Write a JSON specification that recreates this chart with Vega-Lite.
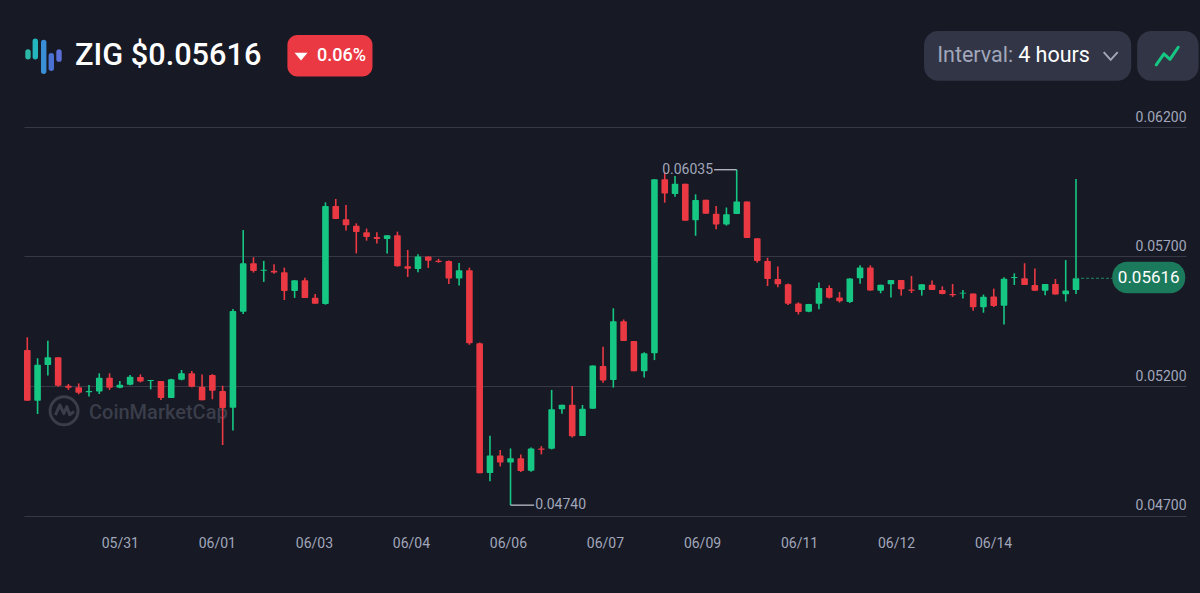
{
  "$schema": "https://vega.github.io/schema/vega-lite/v6.json",
  "width": 1162,
  "height": 388.5,
  "padding": {"left": 24, "top": 127, "right": 14, "bottom": 77.5},
  "autosize": {"type": "none"},
  "background": "#171924",
  "config": {
    "view": {"stroke": null},
    "axis": {"title": null},
    "text": {"font": "Roboto"}
  },
  "data": {"values": [{}]},
  "datasets": {
    "candles": [
      {"t":"2025-05-29T12:00","open":0.05339,"high":0.05388,"low":0.05143,"close":0.05143},
      {"t":"2025-05-29T16:00","open":0.05143,"high":0.05307,"low":0.05092,"close":0.05282},
      {"t":"2025-05-29T20:00","open":0.05281,"high":0.05375,"low":0.05241,"close":0.05311},
      {"t":"2025-05-30T00:00","open":0.05311,"high":0.05311,"low":0.05197,"close":0.05201},
      {"t":"2025-05-30T04:00","open":0.05201,"high":0.05208,"low":0.05185,"close":0.05193},
      {"t":"2025-05-30T08:00","open":0.05195,"high":0.05210,"low":0.05168,"close":0.05174},
      {"t":"2025-05-30T12:00","open":0.05176,"high":0.05204,"low":0.05159,"close":0.05181},
      {"t":"2025-05-30T16:00","open":0.05179,"high":0.05249,"low":0.05169,"close":0.05232},
      {"t":"2025-05-30T20:00","open":0.05232,"high":0.05249,"low":0.05185,"close":0.05193},
      {"t":"2025-05-31T00:00","open":0.05193,"high":0.05219,"low":0.05191,"close":0.05205},
      {"t":"2025-05-31T04:00","open":0.05205,"high":0.05242,"low":0.05203,"close":0.05236},
      {"t":"2025-05-31T08:00","open":0.05235,"high":0.05245,"low":0.05214,"close":0.05217},
      {"t":"2025-05-31T12:00","open":0.05219,"high":0.05223,"low":0.05187,"close":0.05223},
      {"t":"2025-05-31T16:00","open":0.05219,"high":0.05219,"low":0.05146,"close":0.05154},
      {"t":"2025-05-31T20:00","open":0.05154,"high":0.05228,"low":0.05154,"close":0.05226},
      {"t":"2025-06-01T00:00","open":0.05224,"high":0.05262,"low":0.05222,"close":0.05249},
      {"t":"2025-06-01T04:00","open":0.05249,"high":0.05258,"low":0.05195,"close":0.05197},
      {"t":"2025-06-01T08:00","open":0.05197,"high":0.05244,"low":0.05145,"close":0.05145},
      {"t":"2025-06-01T12:00","open":0.05242,"high":0.05246,"low":0.05149,"close":0.05182},
      {"t":"2025-06-01T16:00","open":0.05181,"high":0.05201,"low":0.04972,"close":0.05115},
      {"t":"2025-06-01T20:00","open":0.05116,"high":0.05497,"low":0.05028,"close":0.05490},
      {"t":"2025-06-02T00:00","open":0.05487,"high":0.05802,"low":0.05478,"close":0.05674},
      {"t":"2025-06-02T04:00","open":0.05674,"high":0.05697,"low":0.05638,"close":0.05644},
      {"t":"2025-06-02T08:00","open":0.05645,"high":0.05683,"low":0.05602,"close":0.05649},
      {"t":"2025-06-02T12:00","open":0.05645,"high":0.05670,"low":0.05633,"close":0.05638},
      {"t":"2025-06-02T16:00","open":0.05639,"high":0.05657,"low":0.05532,"close":0.05567},
      {"t":"2025-06-02T20:00","open":0.05567,"high":0.05608,"low":0.05540,"close":0.05608},
      {"t":"2025-06-03T00:00","open":0.05608,"high":0.05618,"low":0.05540,"close":0.05540},
      {"t":"2025-06-03T04:00","open":0.05541,"high":0.05555,"low":0.05518,"close":0.05518},
      {"t":"2025-06-03T08:00","open":0.05517,"high":0.05909,"low":0.05514,"close":0.05895},
      {"t":"2025-06-03T12:00","open":0.05895,"high":0.05922,"low":0.05845,"close":0.05845},
      {"t":"2025-06-03T16:00","open":0.05844,"high":0.05899,"low":0.05800,"close":0.05821},
      {"t":"2025-06-03T20:00","open":0.05819,"high":0.05828,"low":0.05712,"close":0.05795},
      {"t":"2025-06-04T00:00","open":0.05794,"high":0.05808,"low":0.05761,"close":0.05775},
      {"t":"2025-06-04T04:00","open":0.05775,"high":0.05794,"low":0.05750,"close":0.05768},
      {"t":"2025-06-04T08:00","open":0.05768,"high":0.05782,"low":0.05712,"close":0.05782},
      {"t":"2025-06-04T12:00","open":0.05782,"high":0.05796,"low":0.05661,"close":0.05662},
      {"t":"2025-06-04T16:00","open":0.05662,"high":0.05725,"low":0.05621,"close":0.05653},
      {"t":"2025-06-04T20:00","open":0.05652,"high":0.05709,"low":0.05639,"close":0.05700},
      {"t":"2025-06-05T00:00","open":0.05700,"high":0.05700,"low":0.05656,"close":0.05684},
      {"t":"2025-06-05T04:00","open":0.05684,"high":0.05691,"low":0.05676,"close":0.05679},
      {"t":"2025-06-05T08:00","open":0.05683,"high":0.05685,"low":0.05594,"close":0.05615},
      {"t":"2025-06-05T12:00","open":0.05615,"high":0.05675,"low":0.05588,"close":0.05647},
      {"t":"2025-06-05T16:00","open":0.05647,"high":0.05657,"low":0.05359,"close":0.05365},
      {"t":"2025-06-05T20:00","open":0.05365,"high":0.05368,"low":0.04863,"close":0.04863},
      {"t":"2025-06-06T00:00","open":0.04864,"high":0.05008,"low":0.04832,"close":0.04932},
      {"t":"2025-06-06T04:00","open":0.04932,"high":0.04953,"low":0.04889,"close":0.04905},
      {"t":"2025-06-06T08:00","open":0.04905,"high":0.04959,"low":0.04740,"close":0.04921},
      {"t":"2025-06-06T12:00","open":0.04921,"high":0.04936,"low":0.04868,"close":0.04872},
      {"t":"2025-06-06T16:00","open":0.04873,"high":0.04963,"low":0.04869,"close":0.04959},
      {"t":"2025-06-06T20:00","open":0.04959,"high":0.04968,"low":0.04936,"close":0.04954},
      {"t":"2025-06-07T00:00","open":0.04958,"high":0.05185,"low":0.04955,"close":0.05110},
      {"t":"2025-06-07T04:00","open":0.05110,"high":0.05128,"low":0.05093,"close":0.05128},
      {"t":"2025-06-07T08:00","open":0.05128,"high":0.05200,"low":0.05001,"close":0.05006},
      {"t":"2025-06-07T12:00","open":0.05007,"high":0.05127,"low":0.05007,"close":0.05112},
      {"t":"2025-06-07T16:00","open":0.05112,"high":0.05279,"low":0.05112,"close":0.05279},
      {"t":"2025-06-07T20:00","open":0.05277,"high":0.05352,"low":0.05213,"close":0.05221},
      {"t":"2025-06-08T00:00","open":0.05223,"high":0.05500,"low":0.05194,"close":0.05450},
      {"t":"2025-06-08T04:00","open":0.05450,"high":0.05457,"low":0.05374,"close":0.05374},
      {"t":"2025-06-08T08:00","open":0.05374,"high":0.05374,"low":0.05257,"close":0.05257},
      {"t":"2025-06-08T12:00","open":0.05257,"high":0.05330,"low":0.05233,"close":0.05326},
      {"t":"2025-06-08T16:00","open":0.05326,"high":0.05998,"low":0.05300,"close":0.05998},
      {"t":"2025-06-08T20:00","open":0.05998,"high":0.06024,"low":0.05908,"close":0.05943},
      {"t":"2025-06-09T00:00","open":0.05941,"high":0.06011,"low":0.05931,"close":0.05981},
      {"t":"2025-06-09T04:00","open":0.05981,"high":0.05981,"low":0.05838,"close":0.05838},
      {"t":"2025-06-09T08:00","open":0.05840,"high":0.05940,"low":0.05780,"close":0.05918},
      {"t":"2025-06-09T12:00","open":0.05919,"high":0.05919,"low":0.05865,"close":0.05865},
      {"t":"2025-06-09T16:00","open":0.05865,"high":0.05895,"low":0.05805,"close":0.05824},
      {"t":"2025-06-09T20:00","open":0.05824,"high":0.05889,"low":0.05819,"close":0.05863},
      {"t":"2025-06-10T00:00","open":0.05864,"high":0.06035,"low":0.05864,"close":0.05912},
      {"t":"2025-06-10T04:00","open":0.05912,"high":0.05912,"low":0.05771,"close":0.05771},
      {"t":"2025-06-10T08:00","open":0.05770,"high":0.05771,"low":0.05676,"close":0.05683},
      {"t":"2025-06-10T12:00","open":0.05683,"high":0.05695,"low":0.05586,"close":0.05613},
      {"t":"2025-06-10T16:00","open":0.05613,"high":0.05661,"low":0.05581,"close":0.05593},
      {"t":"2025-06-10T20:00","open":0.05593,"high":0.05596,"low":0.05513,"close":0.05518},
      {"t":"2025-06-11T00:00","open":0.05519,"high":0.05523,"low":0.05476,"close":0.05486},
      {"t":"2025-06-11T04:00","open":0.05487,"high":0.05517,"low":0.05485,"close":0.05517},
      {"t":"2025-06-11T08:00","open":0.05518,"high":0.05600,"low":0.05496,"close":0.05578},
      {"t":"2025-06-11T12:00","open":0.05578,"high":0.05589,"low":0.05538,"close":0.05541},
      {"t":"2025-06-11T16:00","open":0.05542,"high":0.05563,"low":0.05522,"close":0.05527},
      {"t":"2025-06-11T20:00","open":0.05524,"high":0.05616,"low":0.05520,"close":0.05615},
      {"t":"2025-06-12T00:00","open":0.05616,"high":0.05666,"low":0.05595,"close":0.05658},
      {"t":"2025-06-12T04:00","open":0.05658,"high":0.05666,"low":0.05568,"close":0.05569},
      {"t":"2025-06-12T08:00","open":0.05568,"high":0.05591,"low":0.05558,"close":0.05591},
      {"t":"2025-06-12T12:00","open":0.05593,"high":0.05609,"low":0.05542,"close":0.05609},
      {"t":"2025-06-12T16:00","open":0.05609,"high":0.05609,"low":0.05549,"close":0.05574},
      {"t":"2025-06-12T20:00","open":0.05573,"high":0.05625,"low":0.05559,"close":0.05568},
      {"t":"2025-06-13T00:00","open":0.05571,"high":0.05593,"low":0.05549,"close":0.05593},
      {"t":"2025-06-13T04:00","open":0.05591,"high":0.05607,"low":0.05571,"close":0.05571},
      {"t":"2025-06-13T08:00","open":0.05571,"high":0.05585,"low":0.05554,"close":0.05555},
      {"t":"2025-06-13T12:00","open":0.05555,"high":0.05594,"low":0.05544,"close":0.05550},
      {"t":"2025-06-13T16:00","open":0.05557,"high":0.05571,"low":0.05538,"close":0.05560},
      {"t":"2025-06-13T20:00","open":0.05557,"high":0.05557,"low":0.05491,"close":0.05504},
      {"t":"2025-06-14T00:00","open":0.05504,"high":0.05553,"low":0.05483,"close":0.05545},
      {"t":"2025-06-14T04:00","open":0.05546,"high":0.05576,"low":0.05505,"close":0.05509},
      {"t":"2025-06-14T08:00","open":0.05510,"high":0.05620,"low":0.05437,"close":0.05614},
      {"t":"2025-06-14T12:00","open":0.05617,"high":0.05635,"low":0.05590,"close":0.05621},
      {"t":"2025-06-14T16:00","open":0.05616,"high":0.05674,"low":0.05590,"close":0.05590},
      {"t":"2025-06-14T20:00","open":0.05590,"high":0.05654,"low":0.05567,"close":0.05568},
      {"t":"2025-06-15T00:00","open":0.05568,"high":0.05594,"low":0.05550,"close":0.05594},
      {"t":"2025-06-15T04:00","open":0.05594,"high":0.05613,"low":0.05553,"close":0.05553},
      {"t":"2025-06-15T08:00","open":0.05554,"high":0.05686,"low":0.05526,"close":0.05569},
      {"t":"2025-06-15T12:00","open":0.05571,"high":0.05999,"low":0.05555,"close":0.05616}
    ],
    "logo": [
      {"part":"a","t":"2025-05-29T12:16","top":0.06490,"bottom":0.06471},
      {"part":"b","t":"2025-05-29T15:07","top":0.06531,"bottom":0.06471},
      {"part":"c","t":"2025-05-29T18:23","top":0.06526,"bottom":0.06415},
      {"part":"d","t":"2025-05-29T21:20","top":0.06475,"bottom":0.06427},
      {"part":"e","t":"2025-05-30T00:20","top":0.06490,"bottom":0.06462}
    ]
  },
  "layer": [
    {
      "mark": {"type": "text", "align": "left", "baseline": "middle", "fontSize": 20, "fontWeight": 500, "color": "#3a3d4a"},
      "encoding": {
        "x": {"datum": {"year":2025,"month":5,"date":30,"hours":12,"minutes":0}, "type": "temporal", "scale": {"nice": false, "padding": 0, "domain": [{"year":2025,"month":5,"date":29,"hours":10,"minutes":43}, {"year":2025,"month":6,"date":17,"hours":6,"minutes":48}]}},
        "y": {"datum": 0.05096, "type": "quantitative", "scale": {"domain": [0.047, 0.062], "zero": false, "nice": false}},
        "text": {"value": "CoinMarketCap"}
      }
    },
    {
      "mark": {"type": "point", "filled": false, "size": 784, "shape": "circle", "stroke": "#3a3d4a", "strokeWidth": 3, "opacity": 1},
      "encoding": {
        "x": {"datum": {"year":2025,"month":5,"date":30,"hours":2,"minutes":18}, "type": "temporal"},
        "y": {"datum": 0.05104, "type": "quantitative"}
      }
    },
    {
      "mark": {"type": "point", "filled": false, "size": 784, "shape": "M-0.62 0.3 L-0.3 -0.42 L-0.02 0.2 L0.2 -0.3 L0.4 0.28 L0.72 0.05", "stroke": "#3a3d4a", "strokeWidth": 3, "strokeJoin": "round", "opacity": 1},
      "encoding": {
        "x": {"datum": {"year":2025,"month":5,"date":30,"hours":2,"minutes":18}, "type": "temporal"},
        "y": {"datum": 0.05104, "type": "quantitative"}
      }
    },
    {
      "data": {"name": "candles"},
      "mark": {"type": "rule", "strokeWidth": 1.6},
      "encoding": {
        "x": {
          "field": "t",
          "type": "temporal",
          "axis": {
            "values": ["2025-05-31T00:00", "2025-06-01T13:45", "2025-06-03T03:30", "2025-06-04T17:15", "2025-06-06T07:00", "2025-06-07T20:45", "2025-06-09T10:30", "2025-06-11T00:15", "2025-06-12T14:00", "2025-06-14T03:45"],
            "format": "%m/%d",
            "grid": false,
            "domain": false,
            "ticks": false,
            "labelPadding": 21,
            "labelFont": "Roboto",
            "labelFontSize": 14,
            "labelColor": "#a1a7bb",
            "labelOverlap": false,
            "labelFlush": false
          }
        },
        "y": {
          "field": "low",
          "type": "quantitative",
          "axis": {
            "orient": "right",
            "values": [0.047, 0.052, 0.057, 0.062],
            "format": ".5f",
            "grid": true,
            "gridColor": "#363945",
            "gridWidth": 1.2,
            "domain": false,
            "ticks": false,
            "labelAlign": "right",
            "labelBaseline": "alphabetic",
            "labelOffset": -6,
            "labelPadding": 0,
            "labelFont": "Roboto",
            "labelFontSize": 14,
            "labelColor": "#a1a7bb"
          }
        },
        "y2": {"field": "high"},
        "color": {"condition": {"test": "datum.close >= datum.open", "value": "#16c784"}, "value": "#ea3943"}
      }
    },
    {
      "data": {"name": "candles"},
      "mark": {"type": "bar", "size": 6.6, "cornerRadius": 1},
      "encoding": {
        "x": {"field": "t", "type": "temporal"},
        "y": {"field": "open", "type": "quantitative"},
        "y2": {"field": "close"},
        "color": {"condition": {"test": "datum.close >= datum.open", "value": "#16c784"}, "value": "#ea3943"}
      }
    },
    {
      "mark": {"type": "rule", "stroke": "#c9ccd6", "strokeWidth": 1.2},
      "encoding": {
        "x": {"datum": {"year":2025,"month":6,"date":9,"hours":15,"minutes":12}, "type": "temporal"},
        "x2": {"datum": {"year":2025,"month":6,"date":10,"hours":0,"minutes":0}},
        "y": {"datum": 0.06035, "type": "quantitative"}
      }
    },
    {
      "mark": {"type": "text", "align": "right", "baseline": "middle", "dx": -1, "fontSize": 14, "color": "#a1a7bb"},
      "encoding": {
        "x": {"datum": {"year":2025,"month":6,"date":9,"hours":15,"minutes":12}, "type": "temporal"},
        "y": {"datum": 0.06035, "type": "quantitative"},
        "text": {"value": "0.06035"}
      }
    },
    {
      "mark": {"type": "rule", "stroke": "#c9ccd6", "strokeWidth": 1.2},
      "encoding": {
        "x": {"datum": {"year":2025,"month":6,"date":6,"hours":8,"minutes":0}, "type": "temporal"},
        "x2": {"datum": {"year":2025,"month":6,"date":6,"hours":17,"minutes":12}},
        "y": {"datum": 0.0474, "type": "quantitative"}
      }
    },
    {
      "mark": {"type": "text", "align": "left", "baseline": "middle", "dx": 1, "fontSize": 14, "color": "#a1a7bb"},
      "encoding": {
        "x": {"datum": {"year":2025,"month":6,"date":6,"hours":17,"minutes":12}, "type": "temporal"},
        "y": {"datum": 0.0474, "type": "quantitative"},
        "text": {"value": "0.04740"}
      }
    },
    {
      "mark": {"type": "rule", "stroke": "#1f8a66", "strokeWidth": 1.2, "strokeDash": [3, 2]},
      "encoding": {
        "x": {"datum": {"year":2025,"month":6,"date":15,"hours":12,"minutes":0}, "type": "temporal"},
        "x2": {"datum": {"year":2025,"month":6,"date":16,"hours":2,"minutes":6}},
        "y": {"datum": 0.05616, "type": "quantitative"}
      }
    },
    {
      "mark": {"type": "rect", "color": "#1c7a5c", "cornerRadius": 15},
      "encoding": {
        "x": {"datum": {"year":2025,"month":6,"date":16,"hours":2,"minutes":6}, "type": "temporal"},
        "x2": {"datum": {"year":2025,"month":6,"date":17,"hours":6,"minutes":30}},
        "y": {"datum": 0.0568, "type": "quantitative"},
        "y2": {"datum": 0.05558}
      }
    },
    {
      "mark": {"type": "text", "align": "center", "baseline": "middle", "fontSize": 17, "color": "#ffffff"},
      "encoding": {
        "x": {"datum": {"year":2025,"month":6,"date":16,"hours":16,"minutes":18}, "type": "temporal"},
        "y": {"datum": 0.05616, "type": "quantitative"},
        "text": {"value": "0.05616"}
      }
    },
    {
      "data": {"name": "logo"},
      "mark": {"type": "rule", "strokeWidth": 5.4, "strokeCap": "round"},
      "encoding": {
        "x": {"field": "t", "type": "temporal"},
        "y": {"field": "bottom", "type": "quantitative"},
        "y2": {"field": "top"},
        "color": {"field": "part", "type": "nominal", "legend": null, "scale": {"domain": ["a", "b", "c", "d", "e"], "range": ["#2bb8a6", "#24b6bf", "#3a8fd6", "#4a72d4", "#5a6fd8"]}}
      }
    },
    {
      "mark": {"type": "text", "align": "left", "baseline": "middle", "fontSize": 30.7, "fontWeight": 500, "color": "#ffffff"},
      "encoding": {
        "x": {"datum": {"year":2025,"month":5,"date":30,"hours":6,"minutes":34}, "type": "temporal"},
        "y": {"datum": 0.06474, "type": "quantitative"},
        "text": {"value": "ZIG $0.05616"}
      }
    },
    {
      "mark": {"type": "rect", "color": "#ea3943", "cornerRadius": 10},
      "encoding": {
        "x": {"datum": {"year":2025,"month":6,"date":2,"hours":17,"minutes":12}, "type": "temporal"},
        "x2": {"datum": {"year":2025,"month":6,"date":4,"hours":2,"minutes":18}},
        "y": {"datum": 0.06555, "type": "quantitative"},
        "y2": {"datum": 0.06395}
      }
    },
    {
      "mark": {"type": "point", "filled": true, "shape": "M-1 -0.6 L1 -0.6 L0 0.6 Z", "size": 170, "color": "#ffffff", "opacity": 1},
      "encoding": {
        "x": {"datum": {"year":2025,"month":6,"date":2,"hours":22,"minutes":30}, "type": "temporal"},
        "y": {"datum": 0.06472, "type": "quantitative"}
      }
    },
    {
      "mark": {"type": "text", "align": "left", "baseline": "middle", "fontSize": 18, "fontWeight": 500, "color": "#ffffff"},
      "encoding": {
        "x": {"datum": {"year":2025,"month":6,"date":3,"hours":4,"minutes":42}, "type": "temporal"},
        "y": {"datum": 0.06474, "type": "quantitative"},
        "text": {"value": "0.06%"}
      }
    },
    {
      "mark": {"type": "rect", "color": "#323546", "cornerRadius": 14},
      "encoding": {
        "x": {"datum": {"year":2025,"month":6,"date":13,"hours":0,"minutes":54}, "type": "temporal"},
        "x2": {"datum": {"year":2025,"month":6,"date":16,"hours":9,"minutes":30}},
        "y": {"datum": 0.06571, "type": "quantitative"},
        "y2": {"datum": 0.06379}
      }
    },
    {
      "mark": {"type": "rect", "color": "#323546", "cornerRadius": 14},
      "encoding": {
        "x": {"datum": {"year":2025,"month":6,"date":16,"hours":11,"minutes":48}, "type": "temporal"},
        "x2": {"datum": {"year":2025,"month":6,"date":17,"hours":11,"minutes":42}},
        "y": {"datum": 0.06571, "type": "quantitative"},
        "y2": {"datum": 0.06379}
      }
    },
    {
      "mark": {"type": "text", "align": "left", "baseline": "middle", "fontSize": 21.5, "color": "#a1a7bb"},
      "encoding": {
        "x": {"datum": {"year":2025,"month":6,"date":13,"hours":6,"minutes":0}, "type": "temporal"},
        "y": {"datum": 0.06474, "type": "quantitative"},
        "text": {"value": "Interval:"}
      }
    },
    {
      "mark": {"type": "text", "align": "left", "baseline": "middle", "fontSize": 21.5, "color": "#ffffff"},
      "encoding": {
        "x": {"datum": {"year":2025,"month":6,"date":14,"hours":13,"minutes":30}, "type": "temporal"},
        "y": {"datum": 0.06474, "type": "quantitative"},
        "text": {"value": "4 hours"}
      }
    },
    {
      "mark": {"type": "point", "filled": false, "size": 196, "shape": "M-1 -0.55 L0 0.55 L1 -0.55", "stroke": "#a1a7bb", "strokeWidth": 2, "opacity": 1},
      "encoding": {
        "x": {"datum": {"year":2025,"month":6,"date":16,"hours":1,"minutes":30}, "type": "temporal"},
        "y": {"datum": 0.06474, "type": "quantitative"}
      }
    },
    {
      "mark": {"type": "point", "filled": false, "size": 484, "shape": "M-1 0.8 L-0.3 -0.2 L0.25 0.3 L1 -0.8", "stroke": "#16c784", "strokeWidth": 3, "strokeCap": "round", "strokeJoin": "round", "opacity": 1},
      "encoding": {
        "x": {"datum": {"year":2025,"month":6,"date":16,"hours":23,"minutes":30}, "type": "temporal"},
        "y": {"datum": 0.06474, "type": "quantitative"}
      }
    }
  ]
}
